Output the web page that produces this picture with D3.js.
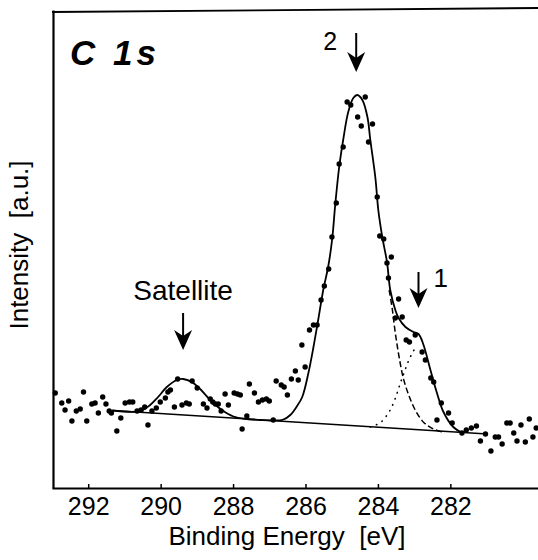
<!DOCTYPE html>
<html>
<head>
<meta charset="utf-8">
<script src="https://cdn.jsdelivr.net/npm/d3@7"></script>
<style>
body { margin: 0; background: #fff; }
text { font-family: "Liberation Sans", Arial, sans-serif; fill: #000; }
</style>
</head>
<body>
<div id="chart"></div>
<script>
// tick labels of the energy axis
var tickValues = [292, 290, 288, 286, 284, 282];

// measured points (binding energy in eV, intensity in a.u.)
var measuredBE = [292.91, 292.73, 292.64, 292.54, 292.45, 292.33, 292.22, 292.13, 292.04, 291.90,
    291.81, 291.72, 291.60, 291.51, 291.42, 291.36, 291.21, 291.10, 290.98, 290.86,
    290.77, 290.65, 290.54, 290.44, 290.35, 290.24, 290.12, 290.01, 289.87, 289.80,
    289.73, 289.62, 289.53, 289.41, 289.29, 289.21, 289.13, 288.99, 288.82, 288.72,
    288.63, 288.56, 288.49, 288.41, 288.33, 288.22, 288.13, 287.97, 287.88, 287.80,
    287.75, 287.62, 287.55, 287.41, 287.30, 287.19, 287.08, 287.00, 286.89, 286.81,
    286.67, 286.59, 286.50, 286.39, 286.28, 286.20, 286.10, 286.01, 285.89, 285.78,
    285.68, 285.57, 285.48, 285.36, 285.27, 285.15, 285.07, 284.96, 284.85, 284.75,
    284.56, 284.46, 284.35, 284.26, 284.15, 284.02, 283.95, 283.84, 283.75, 283.71,
    283.63, 283.52, 283.43, 283.33, 283.22, 283.13, 282.97, 282.78, 282.69, 282.54,
    282.46, 282.37, 282.25, 282.05, 281.95, 281.68, 281.56, 281.42, 281.28, 281.17,
    281.03, 280.88, 280.76, 280.67, 280.57, 280.44, 280.35, 280.25, 280.16, 280.05,
    279.93, 279.82, 279.72, 279.63];
var measuredI = [95, 85, 78, 87, 67, 77, 79, 96, 67, 84,
    85, 75, 91, 84, 77, 75, 57, 70, 85, 86,
    86, 77, 78, 81, 63, 77, 80, 86, 90, 96,
    98, 81, 109, 83, 85, 84, 107, 100, 84, 80,
    89, 86, 84, 84, 77, 94, 83, 95, 94, 93,
    59, 72, 104, 95, 86, 88, 89, 87, 68, 107,
    103, 101, 93, 109, 117, 108, 143, 121, 158, 163,
    163, 188, 202, 219, 251, 285, 324, 341, 386, 383,
    371, 362, 391, 346, 364, 291, 252, 249, 225, 210,
    231, 170, 189, 171, 148, 146, 153, 136, 128, 110,
    106, 68, 85, 75, 65, 55, 58, 60, 62, 47,
    54, 37, 51, 51, 44, 65, 65, 55, 47, 63,
    46, 69, 51, 60];

// fitted envelope (solid)
var envelopeBE = [291.34, 290.56, 290.29, 290.07, 289.83, 289.55, 289.38, 289.14, 288.91, 288.63,
    288.31, 287.99, 287.62, 287.25, 286.89, 286.61, 286.42, 286.25, 286.09, 285.92,
    285.78, 285.65, 285.51, 285.37, 285.26, 285.18, 285.07, 284.96, 284.82, 284.68,
    284.57, 284.43, 284.29, 284.21, 284.07, 283.99, 283.88, 283.75, 283.66, 283.52,
    283.43, 283.24, 283.02, 282.88, 282.75, 282.55, 282.37, 282.19, 281.92, 281.67];
var envelopeI = [77.5, 77, 83, 91, 101, 108, 109, 106, 99, 88,
    78, 71.5, 69, 68, 67.5, 68.5, 73, 81, 91, 115,
    141, 168, 198, 222, 250, 283, 321, 348, 376, 390,
    393, 388, 371, 348, 310, 278, 251, 226, 198, 178,
    170, 161, 156, 154, 144, 118, 95, 76, 61, 55];

// component 2, high energy side (dashed)
var comp2BE = [283.69, 283.60, 283.52, 283.42, 283.30, 283.13, 282.94, 282.72, 282.47, 282.22];
var comp2I = [198, 178, 155, 132, 110, 91, 76, 65, 59, 56];

// component 1, rising side (dotted)
var comp1BE = [284.21, 283.93, 283.71, 283.57, 283.46, 283.38, 283.28, 283.19, 283.08, 282.97];
var comp1I = [61, 65.5, 75, 85, 96, 105, 115, 124, 133, 140];

// background line
var baselineBE = [291.34, 280.98];
var baselineI = [77.5, 54];

// peak markers
var peakLabels = ['Satellite', '2', '1'];
var peakBE = [289.38, 284.60, 282.88];

var width = 538, height = 560;
var svg = d3.select('#chart')
    .append('svg')
    .attr('width', width)
    .attr('height', height);

var x = d3.scaleLinear().domain([293, 279.58]).range([52, 538]);
var y = d3.scaleLinear().domain([0, 478]).range([488, 10]);

function pairs(be, inten) {
    return be.map(function (d, i) { return [d, inten[i]]; });
}

var line = d3.line()
    .x(function (d) { return x(d[0]); })
    .y(function (d) { return y(d[1]); })
    .curve(d3.curveCatmullRom.alpha(0.5));

// frame
svg.append('line')
    .attr('x1', 52).attr('y1', 12).attr('x2', 538).attr('y2', 8)
    .attr('stroke', '#000').attr('stroke-width', 1.8);

var xAxis = svg.append('g')
    .attr('transform', 'translate(0,' + y(0) + ')')
    .call(d3.axisBottom(x).tickValues(tickValues).tickSizeInner(-4).tickSizeOuter(0).tickPadding(9)
        .tickFormat(d3.format('d')));
xAxis.select('.domain').attr('stroke-width', 2.2);
xAxis.selectAll('.tick line').attr('stroke-width', 1.5);
xAxis.selectAll('text').attr('font-size', 25).attr('font-family', '"Liberation Sans", Arial, sans-serif');

var yAxis = svg.append('g')
    .attr('transform', 'translate(53,0)')
    .call(d3.axisLeft(y).tickValues([]).tickSizeOuter(0));
yAxis.select('.domain').attr('stroke-width', 2.2);

// background, fit curves
svg.append('path')
    .attr('d', line(pairs(baselineBE, baselineI)))
    .attr('fill', 'none').attr('stroke', '#000').attr('stroke-width', 1.5);

svg.append('path')
    .attr('d', line(pairs(envelopeBE, envelopeI)))
    .attr('fill', 'none').attr('stroke', '#000').attr('stroke-width', 1.8);

svg.append('path')
    .attr('d', line(pairs(comp2BE, comp2I)))
    .attr('fill', 'none').attr('stroke', '#000').attr('stroke-width', 1.5)
    .attr('stroke-dasharray', '6,3');

svg.append('path')
    .attr('d', line(pairs(comp1BE, comp1I)))
    .attr('fill', 'none').attr('stroke', '#000').attr('stroke-width', 1.6)
    .attr('stroke-linecap', 'round')
    .attr('stroke-dasharray', '0.5,6');

// measured points
svg.append('g').selectAll('circle')
    .data(pairs(measuredBE, measuredI))
    .enter().append('circle')
    .attr('cx', function (d) { return x(d[0]); })
    .attr('cy', function (d) { return y(d[1]); })
    .attr('r', 2.7)
    .attr('fill', '#000');

// arrows
function arrow(xp, top, tip) {
    svg.append('line')
        .attr('x1', xp).attr('y1', top).attr('x2', xp).attr('y2', tip - 12)
        .attr('stroke', '#000').attr('stroke-width', 2);
    svg.append('path')
        .attr('d', 'M' + (xp - 9) + ',' + (tip - 20) + 'L' + xp + ',' + (tip - 14) + 'L' + (xp + 9) + ',' + (tip - 20) +
            'L' + xp + ',' + tip + 'Z')
        .attr('fill', '#000');
}
arrow(x(peakBE[0]), 313, 350);
arrow(x(peakBE[1]), 33, 72);
arrow(x(peakBE[2]), 272, 308);

svg.append('text')
    .attr('x', x(peakBE[0])).attr('y', 300)
    .attr('text-anchor', 'middle').attr('font-size', 28)
    .text(peakLabels[0]);
svg.append('text')
    .attr('x', x(peakBE[1]) - 33).attr('y', 50)
    .attr('font-size', 25)
    .text(peakLabels[1]);
svg.append('text')
    .attr('x', x(peakBE[2]) + 15).attr('y', 287)
    .attr('font-size', 26)
    .text(peakLabels[2]);

// title
svg.append('text')
    .attr('x', 70).attr('y', 65)
    .attr('font-size', 35).attr('font-weight', 'bold').attr('font-style', 'italic')
    .attr('letter-spacing', 4)
    .style('white-space', 'pre')
    .text('C 1s');

// axis titles
svg.append('text')
    .attr('x', 287).attr('y', 545)
    .attr('text-anchor', 'middle').attr('font-size', 26)
    .style('white-space', 'pre')
    .text('Binding Energy  [eV]');

svg.append('text')
    .attr('transform', 'translate(28,245) rotate(-90)')
    .attr('text-anchor', 'middle').attr('font-size', 26)
    .style('white-space', 'pre')
    .text('Intensity  [a.u.]');
</script>
</body>
</html>
